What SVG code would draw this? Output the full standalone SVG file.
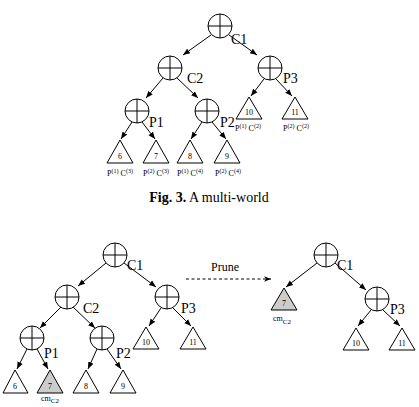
<svg xmlns="http://www.w3.org/2000/svg" width="419" height="407" viewBox="0 0 419 407">
<style>
.n circle{fill:#fff;stroke:#000;stroke-width:1}
.n line{stroke:#000;stroke-width:1}
text{font-family:"Liberation Serif","Times New Roman","DejaVu Serif",serif;fill:#000}
.lbl{font-size:14px}
.t polygon{fill:#fff;stroke:#000;stroke-width:1}
.t.g polygon{fill:#ccc}
.t text{font-size:8px;text-anchor:middle}
.t text.leaf{font-size:8px}
.sup{font-size:6px}
.cm{font-size:10px}
.sub{font-size:7px}
.e line{stroke:#000;stroke-width:1;marker-end:url(#ah)}
.cap{font-size:14px;text-anchor:middle}
</style>
<defs>
<marker id="ah" viewBox="0 0 10 10" refX="10" refY="5" markerWidth="7" markerHeight="7" orient="auto" markerUnits="userSpaceOnUse">
<path d="M0,1 L10,5 L0,9 z" fill="#000"/>
</marker>
<marker id="ahd" viewBox="0 0 10 10" refX="10" refY="5" markerWidth="9" markerHeight="7" orient="auto" markerUnits="userSpaceOnUse">
<path d="M0,1 L10,5 L0,9 L3,5 z" fill="#000"/>
</marker>
</defs>

<!-- Top tree (Fig. 3) -->
<g id="connectors-top" class="e">
<line x1="211" y1="35" x2="183" y2="55"/>
<line x1="229" y1="35" x2="257" y2="55"/>
<line x1="163" y1="78" x2="146" y2="98"/>
<line x1="177" y1="78" x2="198" y2="98"/>
<line x1="264" y1="79" x2="251" y2="96"/>
<line x1="276" y1="79" x2="292" y2="96"/>
<line x1="132" y1="122" x2="121" y2="139"/>
<line x1="142" y1="122" x2="155" y2="139"/>
<line x1="202" y1="122" x2="191" y2="139"/>
<line x1="212" y1="122" x2="226" y2="139"/>
</g>
<g id="t-C1" class="n"><circle cx="220" cy="26" r="12"/><line x1="208" y1="26" x2="232" y2="26"/><line x1="220" y1="14" x2="220" y2="38"/><text class="lbl" x="231" y="44">C1</text></g>
<g id="t-C2" class="n"><circle cx="170" cy="68" r="12"/><line x1="158" y1="68" x2="182" y2="68"/><line x1="170" y1="56" x2="170" y2="80"/><text class="lbl" x="187" y="83">C2</text></g>
<g id="t-P3" class="n"><circle cx="270" cy="68" r="12"/><line x1="258" y1="68" x2="282" y2="68"/><line x1="270" y1="56" x2="270" y2="80"/><text class="lbl" x="283" y="83">P3</text></g>
<g id="t-P1" class="n"><circle cx="137" cy="111" r="12"/><line x1="125" y1="111" x2="149" y2="111"/><line x1="137" y1="99" x2="137" y2="123"/><text class="lbl" x="149" y="127">P1</text></g>
<g id="t-P2" class="n"><circle cx="207" cy="111" r="12"/><line x1="195" y1="111" x2="219" y2="111"/><line x1="207" y1="99" x2="207" y2="123"/><text class="lbl" x="220" y="127">P2</text></g>
<g id="t-10" class="t"><polygon points="249,97 236,119 262,119"/><text x="249" y="115">10</text><text class="leaf" x="248" y="131">P<tspan class="sup" dy="-3">(1)</tspan><tspan dy="3"> C</tspan><tspan class="sup" dy="-3">(2)</tspan></text></g>
<g id="t-11" class="t"><polygon points="295,97 282,119 308,119"/><text x="295" y="115">11</text><text class="leaf" x="296" y="131">P<tspan class="sup" dy="-3">(2)</tspan><tspan dy="3"> C</tspan><tspan class="sup" dy="-3">(2)</tspan></text></g>
<g id="t-6" class="t"><polygon points="120,140 107,163 133,163"/><text x="120" y="159">6</text><text class="leaf" x="120" y="176">P<tspan class="sup" dy="-3">(1)</tspan><tspan dy="3"> C</tspan><tspan class="sup" dy="-3">(3)</tspan></text></g>
<g id="t-7" class="t"><polygon points="156,140 143,163 169,163"/><text x="156" y="159">7</text><text class="leaf" x="156" y="176">P<tspan class="sup" dy="-3">(2)</tspan><tspan dy="3"> C</tspan><tspan class="sup" dy="-3">(3)</tspan></text></g>
<g id="t-8" class="t"><polygon points="190,140 177,163 203,163"/><text x="190" y="159">8</text><text class="leaf" x="190" y="176">P<tspan class="sup" dy="-3">(1)</tspan><tspan dy="3"> C</tspan><tspan class="sup" dy="-3">(4)</tspan></text></g>
<g id="t-9" class="t"><polygon points="227,140 214,163 240,163"/><text x="227" y="159">9</text><text class="leaf" x="228" y="176">P<tspan class="sup" dy="-3">(2)</tspan><tspan dy="3"> C</tspan><tspan class="sup" dy="-3">(4)</tspan></text></g>

<text class="cap" x="209" y="202"><tspan font-weight="bold">Fig. 3.</tspan> A multi-world</text>

<!-- Bottom left tree -->
<g id="connectors-bl" class="e">
<line x1="106" y1="263" x2="78" y2="286"/>
<line x1="124" y1="263" x2="156" y2="287"/>
<line x1="61" y1="307" x2="40" y2="328"/>
<line x1="73" y1="307" x2="95" y2="328"/>
<line x1="161" y1="308" x2="149" y2="326"/>
<line x1="173" y1="308" x2="191" y2="326"/>
<line x1="27" y1="349" x2="17" y2="369"/>
<line x1="37" y1="349" x2="48" y2="369"/>
<line x1="97" y1="349" x2="88" y2="369"/>
<line x1="107" y1="349" x2="121" y2="369"/>
</g>
<g id="b-C1" class="n"><circle cx="115" cy="255" r="12"/><line x1="103" y1="255" x2="127" y2="255"/><line x1="115" y1="243" x2="115" y2="267"/><text class="lbl" x="127" y="270">C1</text></g>
<g id="b-C2" class="n"><circle cx="67" cy="297" r="12"/><line x1="55" y1="297" x2="79" y2="297"/><line x1="67" y1="285" x2="67" y2="309"/><text class="lbl" x="83" y="313">C2</text></g>
<g id="b-P3" class="n"><circle cx="167" cy="297" r="12"/><line x1="155" y1="297" x2="179" y2="297"/><line x1="167" y1="285" x2="167" y2="309"/><text class="lbl" x="181" y="313">P3</text></g>
<g id="b-P1" class="n"><circle cx="32" cy="338" r="12"/><line x1="20" y1="338" x2="44" y2="338"/><line x1="32" y1="326" x2="32" y2="350"/><text class="lbl" x="44" y="358">P1</text></g>
<g id="b-P2" class="n"><circle cx="102" cy="338" r="12"/><line x1="90" y1="338" x2="114" y2="338"/><line x1="102" y1="326" x2="102" y2="350"/><text class="lbl" x="116" y="358">P2</text></g>
<g id="b-10" class="t"><polygon points="146,327 133,349 159,349"/><text x="146" y="345">10</text></g>
<g id="b-11" class="t"><polygon points="193,327 180,349 206,349"/><text x="193" y="345">11</text></g>
<g id="b-6" class="t"><polygon points="15,370 3,393 28,393"/><text x="15" y="389">6</text></g>
<g id="b-7" class="t g"><polygon points="50,370 37,393 63,393"/><text x="50" y="389">7</text><text class="cm" x="50" y="401">cm<tspan class="sub" dy="2">C2</tspan></text></g>
<g id="b-8" class="t"><polygon points="86,370 73,393 99,393"/><text x="86" y="389">8</text></g>
<g id="b-9" class="t"><polygon points="123,370 110,393 136,393"/><text x="123" y="389">9</text></g>

<!-- Prune -->
<g id="prune">
<text x="211" y="271" style="font-size:12px">Prune</text>
<line x1="186" y1="279" x2="271" y2="279" stroke="#000" stroke-width="1" stroke-dasharray="3,2.5" marker-end="url(#ahd)"/>
</g>

<!-- Bottom right tree -->
<g id="connectors-br" class="e">
<line x1="317" y1="263" x2="286" y2="287"/>
<line x1="335" y1="263" x2="366" y2="290"/>
<line x1="371" y1="310" x2="358" y2="326"/>
<line x1="383" y1="310" x2="400" y2="326"/>
</g>
<g id="r-C1" class="n"><circle cx="326" cy="255" r="12"/><line x1="314" y1="255" x2="338" y2="255"/><line x1="326" y1="243" x2="326" y2="267"/><text class="lbl" x="337" y="270">C1</text></g>
<g id="r-7" class="t g"><polygon points="284,288 271,310 297,310"/><text x="284" y="306">7</text><text class="cm" x="282" y="321">cm<tspan class="sub" dy="3">C2</tspan></text></g>
<g id="r-P3" class="n"><circle cx="377" cy="299" r="12"/><line x1="365" y1="299" x2="389" y2="299"/><line x1="377" y1="287" x2="377" y2="311"/><text class="lbl" x="390" y="314">P3</text></g>
<g id="r-10" class="t"><polygon points="356,328 343,350 369,350"/><text x="356" y="346">10</text></g>
<g id="r-11" class="t"><polygon points="402,328 389,350 415,350"/><text x="402" y="346">11</text></g>
</svg>
